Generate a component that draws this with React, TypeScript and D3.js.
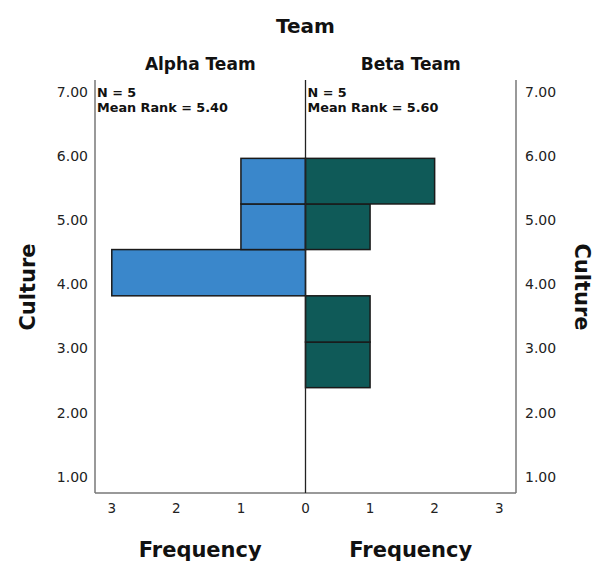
import React from "react";
import * as d3 from "d3";

// bin edges of Culture (shared by both panels)
const binEdges = [2.39, 3.1, 3.82, 4.54, 5.25, 5.96];
const alphaCounts = [0, 0, 3, 1, 1];
const betaCounts = [1, 1, 0, 1, 2];
const yTicks = [1, 2, 3, 4, 5, 6, 7];
const xTicks = [0, 1, 2, 3];
const panels = [
  { name: "Alpha Team", n: 5, meanRank: "5.40" },
  { name: "Beta Team", n: 5, meanRank: "5.60" },
];

const width = 595;
const height = 562;
const font = "'DejaVu Sans', Verdana, sans-serif";

const App = () => {
  const center = 305.5;
  const xLeft = d3.scaleLinear().domain([0, 3.26]).range([center, 95]);
  const xRight = d3.scaleLinear().domain([0, 3.26]).range([center, 516]);
  const y = d3.scaleLinear().domain([0.75, 7.18]).range([493, 80]);

  const bins = d3.range(binEdges.length - 1).map((i) => ({
    y0: binEdges[i],
    y1: binEdges[i + 1],
    alpha: alphaCounts[i],
    beta: betaCounts[i],
  }));

  return (
    <div style={{ position: "fixed", left: 0, top: 0 }}>
      <svg width={width} height={height} style={{ background: "#fff", display: "block" }}>
        <rect width={width} height={height} fill="#fff" />

        {/* bars */}
        {bins
          .filter((b) => b.alpha > 0)
          .map((b, i) => (
            <rect
              key={"a" + i}
              x={xLeft(b.alpha)}
              y={y(b.y1)}
              width={center - xLeft(b.alpha)}
              height={y(b.y0) - y(b.y1)}
              fill="#3a87cb"
              stroke="#1a1a1a"
              strokeWidth={1.5}
            />
          ))}
        {bins
          .filter((b) => b.beta > 0)
          .map((b, i) => (
            <rect
              key={"b" + i}
              x={center}
              y={y(b.y1)}
              width={xRight(b.beta) - center}
              height={y(b.y0) - y(b.y1)}
              fill="#0f5a58"
              stroke="#1a1a1a"
              strokeWidth={1.5}
            />
          ))}

        {/* frame */}
        <g fill="none" stroke="#777" strokeWidth={1.5}>
          <line x1={xLeft(3.26)} x2={xLeft(3.26)} y1={y(7.18)} y2={y(0.75)} />
          <line x1={xRight(3.26)} x2={xRight(3.26)} y1={y(7.18)} y2={y(0.75)} />
          <line x1={xLeft(3.26)} x2={xRight(3.26)} y1={y(0.75)} y2={y(0.75)} />
        </g>
        <line x1={center} x2={center} y1={y(7.18)} y2={y(0.75)} stroke="#222" strokeWidth={1.3} />

        {/* y tick labels */}
        <g fontFamily={font} fontSize={14} fill="#222">
          {yTicks.map((t) => (
            <g key={t}>
              <text x={88} y={y(t) + 5} textAnchor="end">
                {t.toFixed(2)}
              </text>
              <text x={525} y={y(t) + 5}>
                {t.toFixed(2)}
              </text>
            </g>
          ))}
        </g>

        {/* x tick labels */}
        <g fontFamily={font} fontSize={13.5} fill="#222" textAnchor="middle">
          {xTicks.map((t) => (
            <text key={"l" + t} x={xLeft(t)} y={513}>
              {t}
            </text>
          ))}
          {xTicks
            .filter((t) => t > 0)
            .map((t) => (
              <text key={"r" + t} x={xRight(t)} y={513}>
                {t}
              </text>
            ))}
        </g>

        {/* titles */}
        <g fontFamily={font} fontWeight="bold" fill="#111">
          <text x={center} y={33} fontSize={20} textAnchor="middle">
            Team
          </text>
          <text x={(xLeft(3.26) + center) / 2} y={70} fontSize={17} textAnchor="middle">
            {panels[0].name}
          </text>
          <text x={(xRight(3.26) + center) / 2} y={70} fontSize={17} textAnchor="middle">
            {panels[1].name}
          </text>
          <text x={(xLeft(3.26) + center) / 2} y={557} fontSize={21} textAnchor="middle">
            Frequency
          </text>
          <text x={(xRight(3.26) + center) / 2} y={557} fontSize={21} textAnchor="middle">
            Frequency
          </text>
          <text transform="translate(35,287) rotate(-90)" fontSize={21} textAnchor="middle">
            Culture
          </text>
          <text transform="translate(575,287) rotate(90)" fontSize={21} textAnchor="middle">
            Culture
          </text>
        </g>

        {/* panel stats */}
        <g fontFamily={font} fontWeight="bold" fontSize={12.8} fill="#111">
          {panels.map((p, i) => {
            const x0 = i === 0 ? xLeft(3.26) + 2 : center + 2;
            return (
              <g key={p.name}>
                <text x={x0} y={97}>{`N = ${p.n}`}</text>
                <text x={x0} y={112}>{`Mean Rank = ${p.meanRank}`}</text>
              </g>
            );
          })}
        </g>
      </svg>
    </div>
  );
};

export default App;
